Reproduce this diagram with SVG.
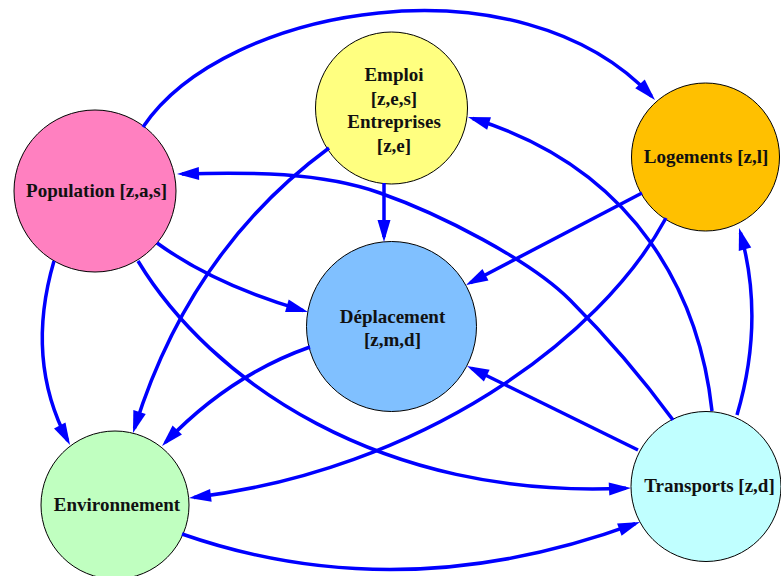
<svg xmlns="http://www.w3.org/2000/svg" width="781" height="576" viewBox="0 0 781 576">
  <style>
    .node { stroke: #000; stroke-width: 1; }
    .label { font-family: "Liberation Serif", "Times New Roman", serif; font-weight: bold; font-size: 19px; fill: #111; text-anchor: middle; }
    .edge { fill: none; stroke: #0000ff; stroke-width: 3.5; marker-end: url(#arrow); }
  </style>
  <defs>
    <marker id="arrow" markerUnits="userSpaceOnUse" markerWidth="22" markerHeight="13" refX="17" refY="6.5" orient="auto" overflow="visible">
      <path d="M0,0 L22,6.5 L0,13 Z" fill="#0000ff"/>
    </marker>
  </defs>
  <rect width="781" height="576" fill="#fff"/>

  <!-- nodes -->
  <g id="population">
    <circle class="node" cx="95" cy="191" r="81" fill="#ff80c0"/>
    <text class="label" x="96.5" y="197">Population [z,a,s]</text>
  </g>
  <g id="emploi">
    <circle class="node" cx="391.5" cy="108" r="76" fill="#ffff80"/>
    <text class="label" x="394" y="81">Emploi</text>
    <text class="label" x="394" y="105">[z,e,s]</text>
    <text class="label" x="394" y="128">Entreprises</text>
    <text class="label" x="394" y="152">[z,e]</text>
  </g>
  <g id="logements">
    <circle class="node" cx="705.5" cy="157" r="74" fill="#ffc000"/>
    <text class="label" x="706" y="163">Logements [z,l]</text>
  </g>
  <g id="deplacement">
    <circle class="node" cx="391.5" cy="326.5" r="85" fill="#80c0ff"/>
    <text class="label" x="392.5" y="323">Déplacement</text>
    <text class="label" x="392.5" y="346">[z,m,d]</text>
  </g>
  <g id="environnement">
    <circle class="node" cx="115" cy="505" r="74" fill="#c0ffc0"/>
    <text class="label" x="117" y="511">Environnement</text>
  </g>
  <g id="transports">
    <circle class="node" cx="706" cy="486.5" r="75" fill="#c0ffff"/>
    <text class="label" x="709.5" y="492">Transports [z,d]</text>
  </g>

  <!-- connectors -->
  <g id="edges">
    <path class="edge" d="M143,127 C225,5 520,-45 651.6,96.3"/>
    <path class="edge" d="M384,183 L384,237"/>
    <path class="edge" d="M329,148 Q190,250 134.5,428.2"/>
    <path class="edge" d="M54,261 Q25,360 67.7,440.6"/>
    <path class="edge" d="M157,243 Q215,285 303.2,310.6"/>
    <path class="edge" d="M138,261 C210,380 380,500 626,488.2"/>
    <path class="edge" d="M666,218 C600,340 420,470 194,497.4"/>
    <path class="edge" d="M642,193 L470.4,282.7"/>
    <path class="edge" d="M310,347 Q230,375 165.5,442.4"/>
    <path class="edge" d="M638,450 L471.5,368.2"/>
    <path class="edge" d="M712,411 C700,300 640,170 472.8,118.5"/>
    <path class="edge" d="M673,420 C640,375 610,340 570,300 S440,214 380,193 S250,172 182,173.9"/>
    <path class="edge" d="M737,415 Q765,320 740.4,232.8"/>
    <path class="edge" d="M182,534 Q400,610 635.3,523.7"/>
  </g>
</svg>
